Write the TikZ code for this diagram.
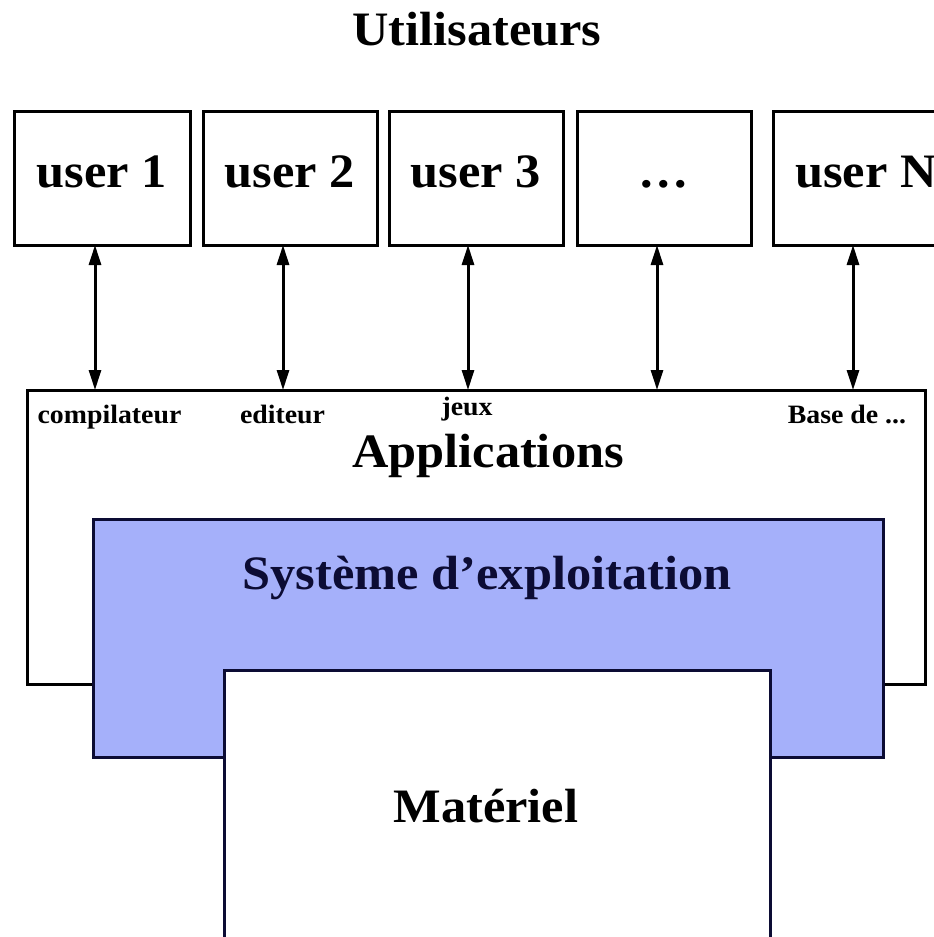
\documentclass[tikz,border=0pt]{standalone}
\usepackage{fontspec}
\setmainfont{Liberation Serif}[FakeStretch=1.05]
\usetikzlibrary{arrows.meta}
\definecolor{osblue}{RGB}{165,176,250}
\definecolor{osnavy}{RGB}{12,12,52}
\tikzset{
  box/.style={draw=black, line width=3pt, fill=white, inner sep=0pt, outer sep=0pt},
  big/.style={inner sep=0pt, anchor=base, font=\bfseries\fontsize{48}{56}\selectfont},
  small/.style={inner sep=0pt, anchor=base, font=\bfseries\fontsize{26.5}{30}\selectfont},
  arr/.style={line width=3pt, {Triangle[length=20pt,width=12pt]}-{Triangle[length=20pt,width=12pt]}, shorten <=0pt, shorten >=0pt}
}
\begin{document}
\begin{tikzpicture}[x=1pt, y=-1pt]
\useasboundingbox (0,0) rectangle (934,937);
% title
\node[big] (titre) at (477,45) {Utilisateurs};
% user boxes
\node[box, minimum width=176pt, minimum height=134pt] (u1) at (102,178) {};
\node[box, minimum width=174pt, minimum height=134pt] (u2) at (290,178) {};
\node[box, minimum width=174pt, minimum height=134pt] (u3) at (476,178) {};
\node[box, minimum width=174pt, minimum height=134pt] (u4) at (664,178) {};
\node[box, minimum width=174pt, minimum height=134pt] (uN) at (860,178) {};
\node[big] (t1) at (102,187) {user 1};
\node[big] (t2) at (290,187) {user 2};
\node[big] (t3) at (476,187) {user 3};
\node[big] (t4) at (664,187) {\dots};
\node[big, anchor=base west] (tN) at (795,187) {user N};
% applications
\node[box, minimum width=898pt, minimum height=294pt] (apps) at (476,537) {};
\node[small] (l1) at (109.5,423) {compilateur};
\node[small] (l2) at (282.5,423) {editeur};
\node[small] (l3) at (467,415) {jeux};
\node[small] (l4) at (847,423) {Base de ...};
\node[big] (tapps) at (488,467) {Applications};
% OS
\node[box, draw=osnavy, fill=osblue, minimum width=790pt, minimum height=238pt] (os) at (488,638) {};
\node[big, text=osnavy] (tos) at (487,589) {Système d’exploitation};
% hardware
\node[box, draw=osnavy, minimum width=546pt, minimum height=275pt] (hw) at (497,807.5) {};
\node[big] (thw) at (486,822) {Matériel};
% arrows
\draw[arr] ([xshift=-7pt]u1.south) -- ([xshift=-7pt]u1.south |- apps.north);
\draw[arr] ([xshift=-7pt]u2.south) -- ([xshift=-7pt]u2.south |- apps.north);
\draw[arr] ([xshift=-8pt]u3.south) -- ([xshift=-8pt]u3.south |- apps.north);
\draw[arr] ([xshift=-7pt]u4.south) -- ([xshift=-7pt]u4.south |- apps.north);
\draw[arr] ([xshift=-7pt]uN.south) -- ([xshift=-7pt]uN.south |- apps.north);
\end{tikzpicture}
\end{document}
